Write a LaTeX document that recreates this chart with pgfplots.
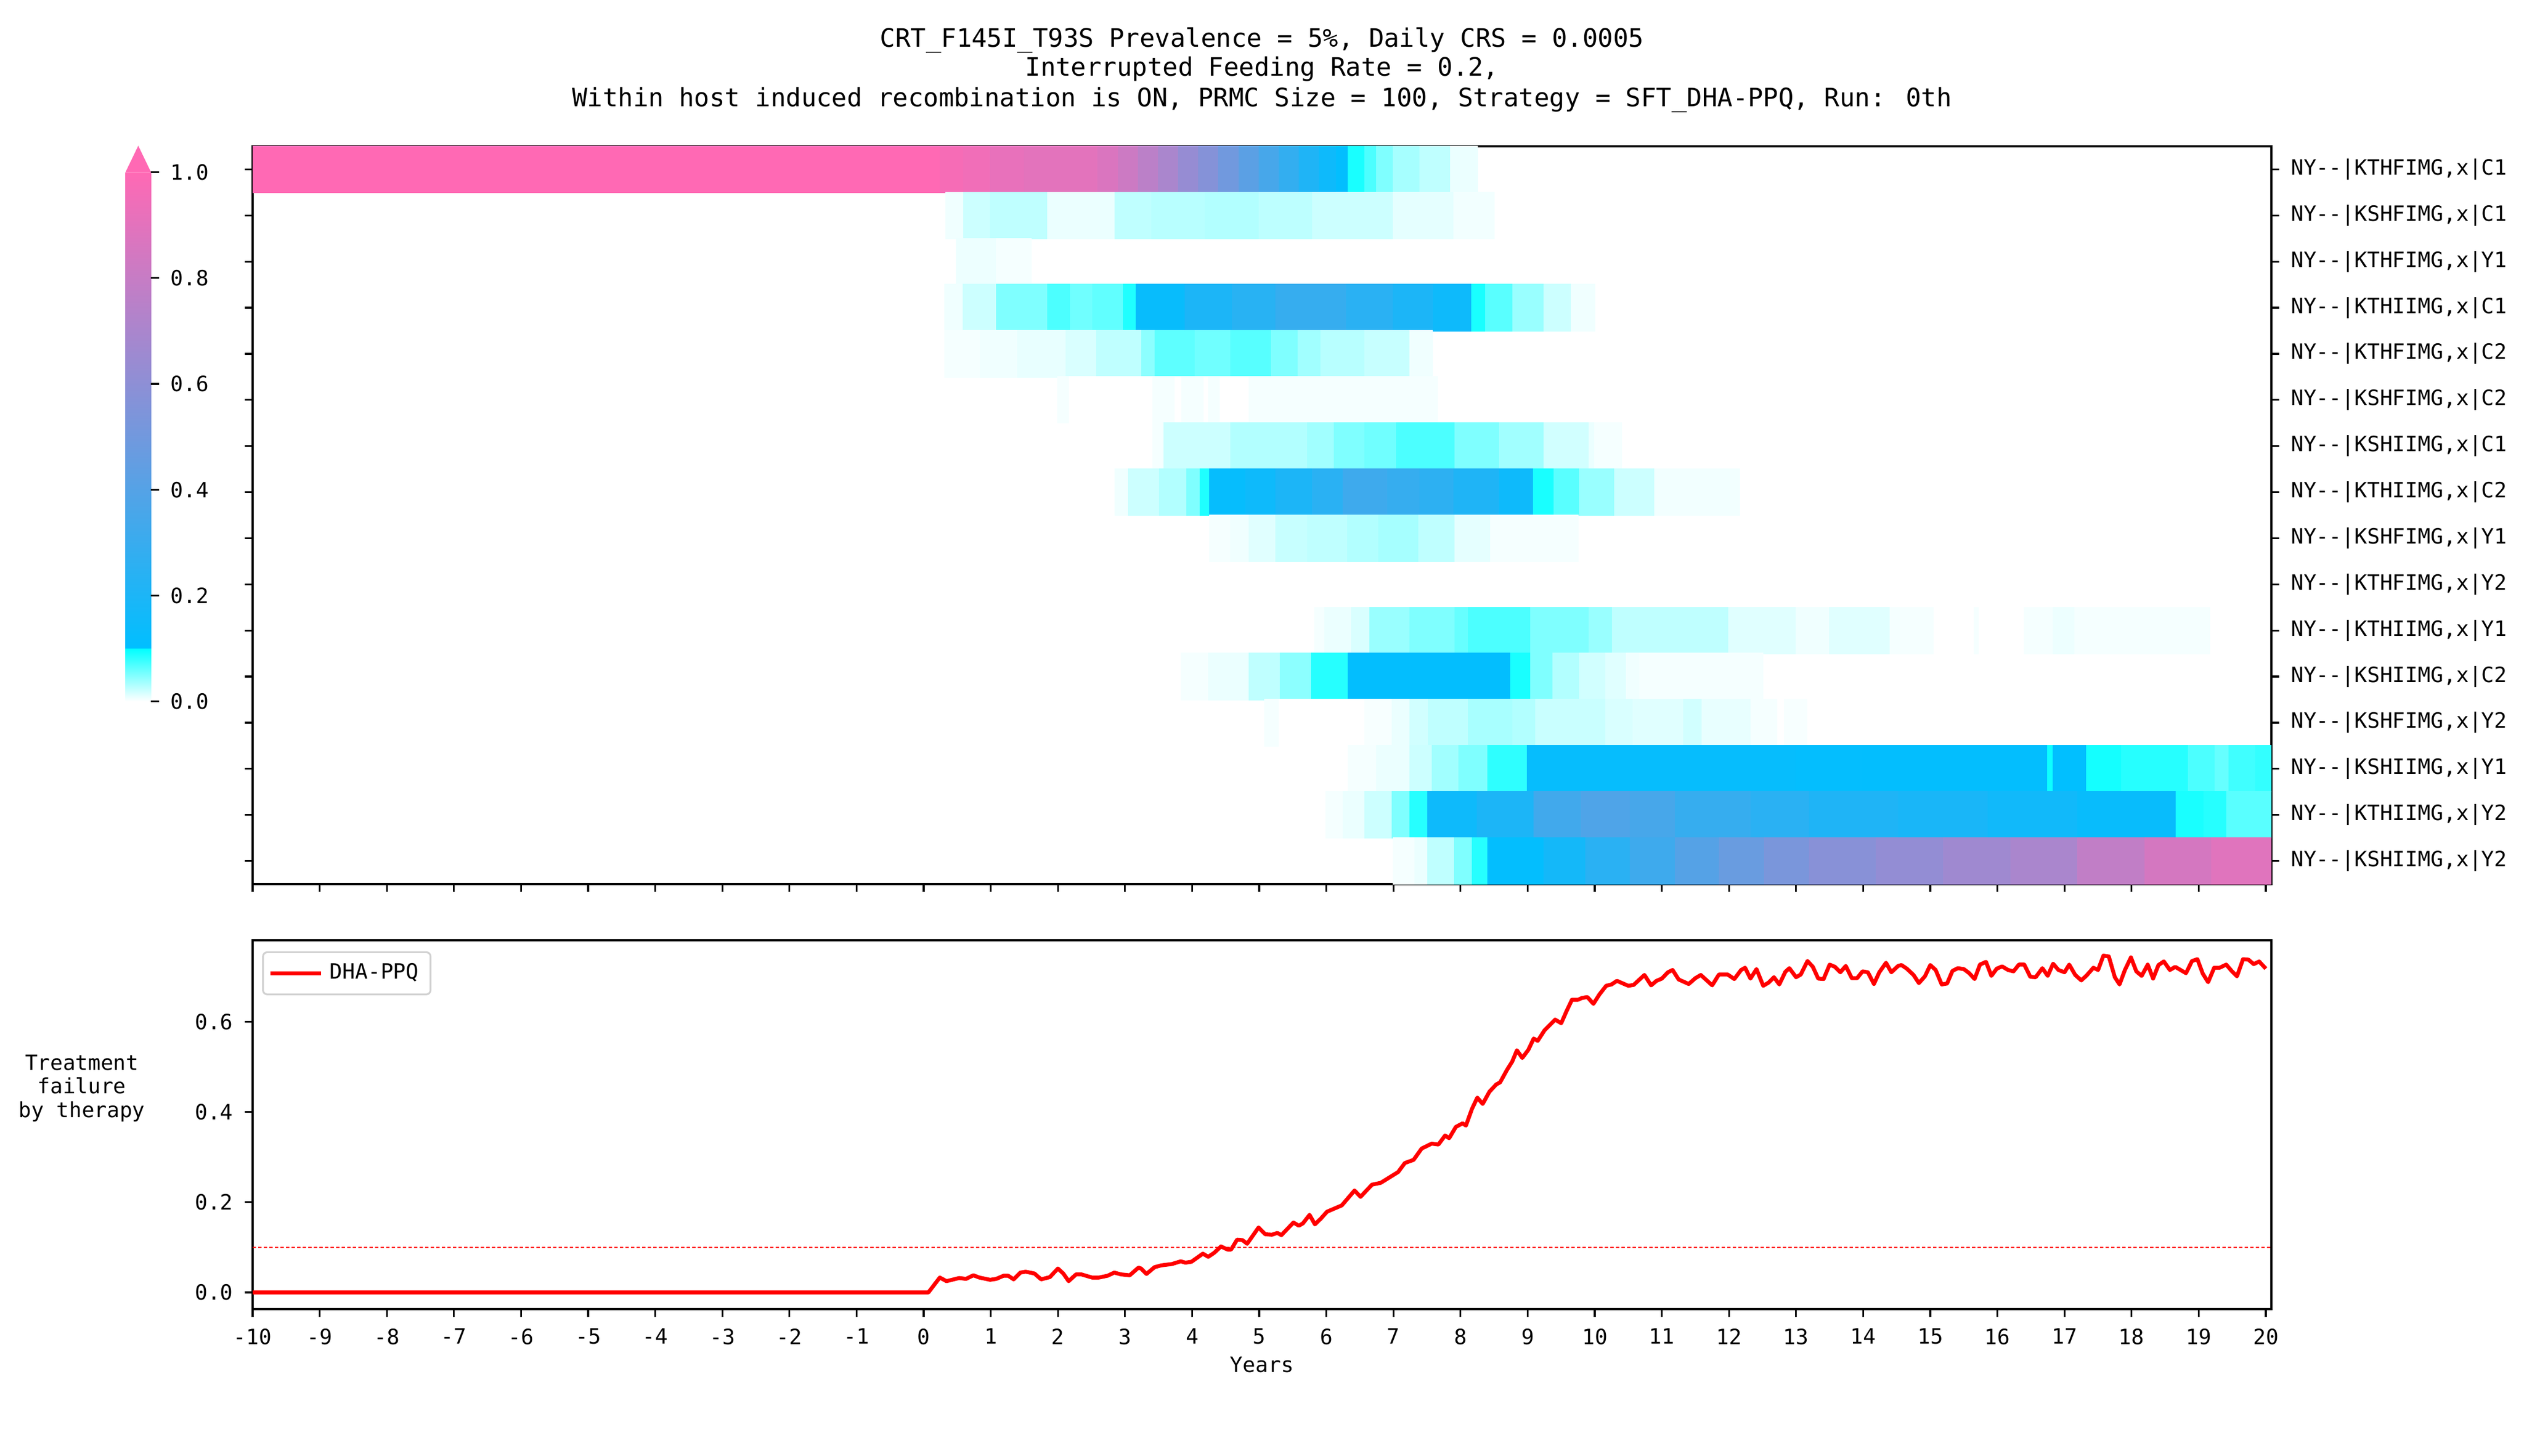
\documentclass[border=0pt]{standalone}
\usepackage{pgfplots}
\pgfplotsset{compat=1.18}
\usepackage{fontspec}
\setmainfont{DejaVu Sans Mono}
\definecolor{hotpink}{RGB}{255,105,180}
\newcommand{\lbl}{\fontsize{6.45}{7.7}\selectfont}
\newcommand{\ttl}{\fontsize{7.75}{9.2}\selectfont}
\pgfplotsset{
  colormap={cm}{rgb255(0cm)=(255,255,255) rgb255(10cm)=(0,255,255) rgb255(10.01cm)=(0,191,255) rgb255(100cm)=(255,105,180)},
  rowplot/.style={surf, shader=flat corner, mesh/rows=2, mesh/ordering=y varies, point meta=explicit},
}
\begin{document}
\begin{tikzpicture}[x=1pt,y=1pt]
\useasboundingbox (0,0) rectangle (771.12,444.72);
\begin{axis}[
  at={(77.18pt,174.59pt)}, anchor=south west,
  scale only axis, width=616.76pt, height=225.42pt,
  xmin=-10, xmax=20.083, ymin=0.5, ymax=16.5, y dir=reverse,
  colormap name=cm, point meta min=0, point meta max=1,
  xtick={-10,...,20}, xticklabels={}, xtick pos=left,
  ytick={1,...,16}, ytick pos=both, yticklabel pos=right,
  yticklabels={{NY-{}-|KTHFIMG,x|C1},{NY-{}-|KSHFIMG,x|C1},{NY-{}-|KTHFIMG,x|Y1},{NY-{}-|KTHIIMG,x|C1},{NY-{}-|KTHFIMG,x|C2},{NY-{}-|KSHFIMG,x|C2},{NY-{}-|KSHIIMG,x|C1},{NY-{}-|KTHIIMG,x|C2},{NY-{}-|KSHFIMG,x|Y1},{NY-{}-|KTHFIMG,x|Y2},{NY-{}-|KTHIIMG,x|Y1},{NY-{}-|KSHIIMG,x|C2},{NY-{}-|KSHFIMG,x|Y2},{NY-{}-|KSHIIMG,x|Y1},{NY-{}-|KTHIIMG,x|Y2},{NY-{}-|KSHIIMG,x|Y2}},
  tick align=outside, major tick length=2.45pt,
  every tick/.style={black, line width=0.54pt},
  axis line style={line width=0.54pt},
  every tick label/.append style={font=\lbl},
  colorbar,
  colorbar style={
    at={(38.34pt,230.4pt)}, anchor=south west, xshift=-0.3cm,
    scale only axis, width=7.8pt, height=161.7pt,
    ytick={0,0.2,0.4,0.6,0.8,1}, yticklabels={0.0,0.2,0.4,0.6,0.8,1.0},
    yticklabel pos=right, ytick pos=right, xtick=\empty,
    axis line style={draw=none},
    tick align=outside, major tick length=2.45pt,
    every tick/.style={black, line width=0.54pt},
    every tick label/.append style={font=\lbl},
    extra description/.code={\fill[hotpink] (rel axis cs:0,1) -- (rel axis cs:1,1) -- (rel axis cs:0.5,1.05) -- cycle;},
  },
]
% row 1 KTHFIMG|C1
\addplot[rowplot] table[meta index=2] {
x y v
-10 0.5 1.0
-10 1.5 1.0
0.25 0.5 0.97
0.25 1.5 0.97
0.6 0.5 0.95
0.6 1.5 0.95
1.0 0.5 0.92
1.0 1.5 0.92
1.5 0.5 0.90
1.5 1.5 0.90
2.6 0.5 0.87
2.6 1.5 0.87
2.9 0.5 0.82
2.9 1.5 0.82
3.2 0.5 0.76
3.2 1.5 0.76
3.5 0.5 0.70
3.5 1.5 0.70
3.8 0.5 0.63
3.8 1.5 0.63
4.1 0.5 0.57
4.1 1.5 0.57
4.4 0.5 0.50
4.4 1.5 0.50
4.7 0.5 0.42
4.7 1.5 0.42
5.0 0.5 0.35
5.0 1.5 0.35
5.3 0.5 0.28
5.3 1.5 0.28
5.6 0.5 0.21
5.6 1.5 0.21
5.9 0.5 0.15
5.9 1.5 0.15
6.15 0.5 0.11
6.15 1.5 0.11
6.33 0.5 0.09
6.33 1.5 0.09
6.58 0.5 0.07
6.58 1.5 0.07
6.75 0.5 0.05
6.75 1.5 0.05
7.0 0.5 0.035
7.0 1.5 0.035
7.4 0.5 0.025
7.4 1.5 0.025
7.85 0.5 0.008
7.85 1.5 0.008
8.25 0.5 0
8.25 1.5 0
};
% row 2 KSHFIMG|C1
\addplot[rowplot] table[meta index=2] {
x y v
0.33 1.5 0.006
0.33 2.5 0.006
0.6 1.5 0.02
0.6 2.5 0.02
1.0 1.5 0.025
1.0 2.5 0.025
1.85 1.5 0.008
1.85 2.5 0.008
2.85 1.5 0.025
2.85 2.5 0.025
3.4 1.5 0.028
3.4 2.5 0.028
4.2 1.5 0.03
4.2 2.5 0.03
5.0 1.5 0.026
5.0 2.5 0.026
5.8 1.5 0.02
5.8 2.5 0.02
7.0 1.5 0.01
7.0 2.5 0.01
7.9 1.5 0.005
7.9 2.5 0.005
8.5 1.5 0
8.5 2.5 0
};
% row 3 KTHFIMG|Y1
\addplot[rowplot] table[meta index=2] {
x y v
0.49 2.5 0.007
0.49 3.5 0.007
1.09 2.5 0.004
1.09 3.5 0.004
1.6 2.5 0
1.6 3.5 0
};
% row 4 KTHIIMG|C1
\addplot[rowplot] table[meta index=2] {
x y v
0.32 3.5 0.006
0.32 4.5 0.006
0.59 3.5 0.02
0.59 4.5 0.02
1.09 3.5 0.05
1.09 4.5 0.05
1.85 3.5 0.07
1.85 4.5 0.07
2.19 3.5 0.056
2.19 4.5 0.056
2.52 3.5 0.062
2.52 4.5 0.062
2.98 3.5 0.088
2.98 4.5 0.088
3.17 3.5 0.13
3.17 4.5 0.13
3.9 3.5 0.2
3.9 4.5 0.2
4.6 3.5 0.24
4.6 4.5 0.24
5.25 3.5 0.29
5.25 4.5 0.29
6.3 3.5 0.25
6.3 4.5 0.25
7.0 3.5 0.2
7.0 4.5 0.2
7.6 3.5 0.15
7.6 4.5 0.15
8.17 3.5 0.09
8.17 4.5 0.09
8.38 3.5 0.065
8.38 4.5 0.065
8.78 3.5 0.04
8.78 4.5 0.04
9.25 3.5 0.02
9.25 4.5 0.02
9.65 3.5 0.006
9.65 4.5 0.006
10.0 3.5 0
10.0 4.5 0
};
% row 5 KTHFIMG|C2
\addplot[rowplot] table[meta index=2] {
x y v
0.32 4.5 0.004
0.32 5.5 0.004
0.85 4.5 0.006
0.85 5.5 0.006
1.4 4.5 0.009
1.4 5.5 0.009
2.12 4.5 0.015
2.12 5.5 0.015
2.58 4.5 0.025
2.58 5.5 0.025
3.25 4.5 0.045
3.25 5.5 0.045
3.45 4.5 0.063
3.45 5.5 0.063
4.05 4.5 0.056
4.05 5.5 0.056
4.58 4.5 0.066
4.58 5.5 0.066
5.18 4.5 0.05
5.18 5.5 0.05
5.58 4.5 0.037
5.58 5.5 0.037
5.92 4.5 0.028
5.92 5.5 0.028
6.58 4.5 0.022
6.58 5.5 0.022
7.25 4.5 0.006
7.25 5.5 0.006
7.58 4.5 0
7.58 5.5 0
};
% row 6 KSHFIMG|C2
\addplot[rowplot] table[meta index=2] {
x y v
2.0 5.5 0.004
2.0 6.5 0.004
2.17 5.5 0
2.17 6.5 0
3.42 5.5 0.004
3.42 6.5 0.004
3.75 5.5 0
3.75 6.5 0
3.85 5.5 0.004
3.85 6.5 0.004
4.18 5.5 0
4.18 6.5 0
4.25 5.5 0.004
4.25 6.5 0.004
4.42 5.5 0
4.42 6.5 0
4.85 5.5 0.004
4.85 6.5 0.004
7.65 5.5 0
7.65 6.5 0
};
% row 7 KSHIIMG|C1
\addplot[rowplot] table[meta index=2] {
x y v
3.42 6.5 0.004
3.42 7.5 0.004
3.58 6.5 0.02
3.58 7.5 0.02
4.58 6.5 0.03
4.58 7.5 0.03
5.72 6.5 0.037
5.72 7.5 0.037
6.12 6.5 0.05
6.12 7.5 0.05
6.58 6.5 0.056
6.58 7.5 0.056
7.05 6.5 0.07
7.05 7.5 0.07
7.92 6.5 0.05
7.92 7.5 0.05
8.58 6.5 0.037
8.58 7.5 0.037
9.25 6.5 0.018
9.25 7.5 0.018
9.92 6.5 0.008
9.92 7.5 0.008
10.0 6.5 0.004
10.0 7.5 0.004
10.4 6.5 0
10.4 7.5 0
};
% row 8 KTHIIMG|C2
\addplot[rowplot] table[meta index=2] {
x y v
2.85 7.5 0.006
2.85 8.5 0.006
3.05 7.5 0.02
3.05 8.5 0.02
3.52 7.5 0.03
3.52 8.5 0.03
3.92 7.5 0.05
3.92 8.5 0.05
4.12 7.5 0.088
4.12 8.5 0.088
4.26 7.5 0.12
4.26 8.5 0.12
4.8 7.5 0.15
4.8 8.5 0.15
5.25 7.5 0.2
5.25 8.5 0.2
5.8 7.5 0.25
5.8 8.5 0.25
6.25 7.5 0.32
6.25 8.5 0.32
6.92 7.5 0.29
6.92 8.5 0.29
7.4 7.5 0.26
7.4 8.5 0.26
7.9 7.5 0.21
7.9 8.5 0.21
8.58 7.5 0.15
8.58 8.5 0.15
9.09 7.5 0.09
9.09 8.5 0.09
9.4 7.5 0.065
9.4 8.5 0.065
9.78 7.5 0.04
9.78 8.5 0.04
10.3 7.5 0.02
10.3 8.5 0.02
10.9 7.5 0.005
10.9 8.5 0.005
12.15 7.5 0
12.15 8.5 0
};
% row 9 KSHFIMG|Y1
\addplot[rowplot] table[meta index=2] {
x y v
4.26 8.5 0.004
4.26 9.5 0.004
4.58 8.5 0.006
4.58 9.5 0.006
4.85 8.5 0.012
4.85 9.5 0.012
5.25 8.5 0.022
5.25 9.5 0.022
5.72 8.5 0.025
5.72 9.5 0.025
6.32 8.5 0.03
6.32 9.5 0.03
6.78 8.5 0.035
6.78 9.5 0.035
7.38 8.5 0.025
7.38 9.5 0.025
7.92 8.5 0.01
7.92 9.5 0.01
8.45 8.5 0.004
8.45 9.5 0.004
9.75 8.5 0
9.75 9.5 0
};
% row 11 KTHIIMG|Y1
\addplot[rowplot] table[meta index=2] {
x y v
5.83 10.5 0.004
5.83 11.5 0.004
5.98 10.5 0.008
5.98 11.5 0.008
6.38 10.5 0.015
6.38 11.5 0.015
6.65 10.5 0.04
6.65 11.5 0.04
7.25 10.5 0.05
7.25 11.5 0.05
7.92 10.5 0.06
7.92 11.5 0.06
8.12 10.5 0.07
8.12 11.5 0.07
9.05 10.5 0.05
9.05 11.5 0.05
9.92 10.5 0.04
9.92 11.5 0.04
10.27 10.5 0.025
10.27 11.5 0.025
12.0 10.5 0.012
12.0 11.5 0.012
13.0 10.5 0.006
13.0 11.5 0.006
13.5 10.5 0.012
13.5 11.5 0.012
14.4 10.5 0.004
14.4 11.5 0.004
15.06 10.5 0
15.06 11.5 0
15.66 10.5 0.004
15.66 11.5 0.004
15.73 10.5 0
15.73 11.5 0
16.4 10.5 0.004
16.4 11.5 0.004
16.83 10.5 0.007
16.83 11.5 0.007
17.16 10.5 0.004
17.16 11.5 0.004
19.16 10.5 0
19.16 11.5 0
};
% row 12 KSHIIMG|C2
\addplot[rowplot] table[meta index=2] {
x y v
3.84 11.5 0.004
3.84 12.5 0.004
4.25 11.5 0.008
4.25 12.5 0.008
4.85 11.5 0.025
4.85 12.5 0.025
5.32 11.5 0.045
5.32 12.5 0.045
5.78 11.5 0.085
5.78 12.5 0.085
6.33 11.5 0.11
6.33 12.5 0.11
8.75 11.5 0.09
8.75 12.5 0.09
9.05 11.5 0.05
9.05 12.5 0.05
9.38 11.5 0.03
9.38 12.5 0.03
9.78 11.5 0.018
9.78 12.5 0.018
10.17 11.5 0.012
10.17 12.5 0.012
10.47 11.5 0.006
10.47 12.5 0.006
10.67 11.5 0.004
10.67 12.5 0.004
12.5 11.5 0
12.5 12.5 0
};
% row 13 KSHFIMG|Y2
\addplot[rowplot] table[meta index=2] {
x y v
5.08 12.5 0.004
5.08 13.5 0.004
5.3 12.5 0
5.3 13.5 0
6.58 12.5 0.003
6.58 13.5 0.003
6.98 12.5 0.008
6.98 13.5 0.008
7.25 12.5 0.018
7.25 13.5 0.018
7.52 12.5 0.025
7.52 13.5 0.025
8.12 12.5 0.034
8.12 13.5 0.034
8.78 12.5 0.03
8.78 13.5 0.03
9.12 12.5 0.021
9.12 13.5 0.021
10.17 12.5 0.015
10.17 13.5 0.015
10.57 12.5 0.012
10.57 13.5 0.012
11.33 12.5 0.018
11.33 13.5 0.018
11.6 12.5 0.009
11.6 13.5 0.009
12.33 12.5 0.004
12.33 13.5 0.004
12.73 12.5 0
12.73 13.5 0
12.83 12.5 0.003
12.83 13.5 0.003
13.16 12.5 0
13.16 13.5 0
};
% row 14 KSHIIMG|Y1
\addplot[rowplot] table[meta index=2] {
x y v
6.33 13.5 0.004
6.33 14.5 0.004
6.75 13.5 0.008
6.75 14.5 0.008
7.25 13.5 0.02
7.25 14.5 0.02
7.58 13.5 0.037
7.58 14.5 0.037
7.98 13.5 0.05
7.98 14.5 0.05
8.41 13.5 0.082
8.41 14.5 0.082
9.0 13.5 0.12
9.0 14.5 0.12
13.0 13.5 0.115
13.0 14.5 0.115
14.0 13.5 0.11
14.0 14.5 0.11
16.75 13.5 0.095
16.75 14.5 0.095
16.83 13.5 0.105
16.83 14.5 0.105
17.33 13.5 0.092
17.33 14.5 0.092
17.85 13.5 0.085
17.85 14.5 0.085
18.85 13.5 0.07
18.85 14.5 0.07
19.25 13.5 0.06
19.25 14.5 0.06
19.45 13.5 0.075
19.45 14.5 0.075
19.85 13.5 0.08
19.85 14.5 0.08
20.083 13.5 0
20.083 14.5 0
};
% row 15 KTHIIMG|Y2
\addplot[rowplot] table[meta index=2] {
x y v
6.0 14.5 0.004
6.0 15.5 0.004
6.25 14.5 0.008
6.25 15.5 0.008
6.58 14.5 0.02
6.58 15.5 0.02
6.98 14.5 0.05
6.98 15.5 0.05
7.25 14.5 0.085
7.25 15.5 0.085
7.51 14.5 0.15
7.51 15.5 0.15
8.25 14.5 0.2
8.25 15.5 0.2
9.1 14.5 0.33
9.1 15.5 0.33
9.8 14.5 0.38
9.8 15.5 0.38
10.53 14.5 0.35
10.53 15.5 0.35
11.2 14.5 0.29
11.2 15.5 0.29
12.33 14.5 0.25
12.33 15.5 0.25
13.2 14.5 0.21
13.2 15.5 0.21
14.53 14.5 0.19
14.53 15.5 0.19
15.86 14.5 0.16
15.86 15.5 0.16
17.2 14.5 0.13
17.2 15.5 0.13
18.67 14.5 0.09
18.67 15.5 0.09
19.08 14.5 0.085
19.08 15.5 0.085
19.42 14.5 0.065
19.42 15.5 0.065
20.083 14.5 0
20.083 15.5 0
};
% row 16 KSHIIMG|Y2
\addplot[rowplot] table[meta index=2] {
x y v
7.0 15.5 0.004
7.0 16.5 0.004
7.32 15.5 0.008
7.32 16.5 0.008
7.51 15.5 0.025
7.51 16.5 0.025
7.91 15.5 0.05
7.91 16.5 0.05
8.18 15.5 0.085
8.18 16.5 0.085
8.41 15.5 0.11
8.41 16.5 0.11
9.25 15.5 0.17
9.25 16.5 0.17
9.87 15.5 0.25
9.87 16.5 0.25
10.53 15.5 0.32
10.53 16.5 0.32
11.2 15.5 0.40
11.2 16.5 0.40
11.86 15.5 0.47
11.86 16.5 0.47
12.53 15.5 0.53
12.53 16.5 0.53
13.2 15.5 0.58
13.2 16.5 0.58
14.2 15.5 0.62
14.2 16.5 0.62
15.2 15.5 0.66
15.2 16.5 0.66
16.2 15.5 0.70
16.2 16.5 0.70
17.2 15.5 0.78
17.2 16.5 0.78
18.2 15.5 0.85
18.2 16.5 0.85
19.2 15.5 0.89
19.2 16.5 0.89
20.083 15.5 0
20.083 16.5 0
};
\end{axis}

\begin{axis}[
  at={(77.18pt,44.71pt)}, anchor=south west,
  scale only axis, width=616.76pt, height=112.71pt,
  xmin=-10, xmax=20.083, ymin=-0.037, ymax=0.781,
  xtick={-10,...,20},
  xticklabels={-10,-9,-8,-7,-6,-5,-4,-3,-2,-1,0,1,2,3,4,5,6,7,8,9,10,11,12,13,14,15,16,17,18,19,20},
  ytick={0,0.2,0.4,0.6}, yticklabels={0.0,0.2,0.4,0.6},
  tick pos=left, tick align=outside, major tick length=2.45pt,
  every tick/.style={black, line width=0.54pt},
  axis line style={line width=0.54pt},
  every tick label/.append style={font=\lbl},
  legend style={at={(0.0047,0.97)}, anchor=north west, draw=black!18, line width=0.55pt, rounded corners=1.3pt, font=\lbl, fill=white, inner xsep=1.6pt, inner ysep=1.3pt},
  legend cell align=left,
  legend image code/.code={\draw[#1, line width=1.2pt] (0pt,0pt) -- (15.6pt,0pt);},
]
\addplot[red, line width=0.3pt, dash pattern=on 1pt off 0.7pt, forget plot] coordinates {(-10,0.1) (20.083,0.1)};
\addplot[red, line width=1.2pt, line join=round] table {
x y
-10 0
0.07 0
0.24 0.033
0.34 0.025
0.53 0.032
0.63 0.030
0.74 0.038
0.83 0.033
0.99 0.028
1.08 0.030
1.19 0.037
1.26 0.037
1.34 0.029
1.44 0.044
1.52 0.046
1.65 0.042
1.75 0.029
1.88 0.034
2.00 0.053
2.08 0.042
2.16 0.025
2.27 0.040
2.35 0.040
2.51 0.033
2.61 0.033
2.74 0.037
2.84 0.044
2.94 0.040
3.07 0.038
3.20 0.055
3.24 0.053
3.32 0.041
3.44 0.056
3.54 0.060
3.70 0.063
3.83 0.069
3.90 0.066
3.99 0.068
4.16 0.086
4.24 0.079
4.33 0.088
4.43 0.102
4.53 0.095
4.58 0.095
4.67 0.117
4.75 0.116
4.82 0.108
4.99 0.144
5.09 0.129
5.19 0.128
5.27 0.132
5.33 0.127
5.51 0.155
5.59 0.148
5.65 0.153
5.75 0.172
5.83 0.151
5.92 0.164
6.01 0.179
6.23 0.193
6.42 0.226
6.51 0.212
6.68 0.239
6.81 0.243
6.94 0.255
7.07 0.267
7.17 0.287
7.30 0.294
7.42 0.319
7.57 0.330
7.67 0.328
7.77 0.348
7.83 0.342
7.93 0.367
8.03 0.375
8.08 0.370
8.17 0.407
8.25 0.432
8.33 0.418
8.43 0.445
8.53 0.461
8.59 0.466
8.69 0.493
8.77 0.512
8.84 0.537
8.92 0.520
9.01 0.538
9.09 0.563
9.15 0.558
9.25 0.581
9.41 0.605
9.50 0.597
9.58 0.624
9.66 0.649
9.75 0.649
9.81 0.653
9.89 0.655
9.98 0.640
10.07 0.661
10.17 0.680
10.25 0.683
10.33 0.691
10.50 0.680
10.58 0.682
10.74 0.704
10.84 0.681
10.92 0.691
11.00 0.696
11.09 0.710
11.16 0.715
11.25 0.694
11.40 0.684
11.50 0.697
11.58 0.704
11.75 0.681
11.85 0.705
11.98 0.705
12.08 0.695
12.18 0.715
12.24 0.720
12.32 0.696
12.41 0.717
12.51 0.680
12.59 0.687
12.67 0.699
12.75 0.683
12.84 0.711
12.90 0.719
13.00 0.699
13.07 0.705
13.17 0.735
13.25 0.722
13.33 0.696
13.41 0.695
13.50 0.727
13.58 0.722
13.66 0.710
13.74 0.724
13.83 0.697
13.91 0.697
13.99 0.712
14.07 0.710
14.16 0.684
14.24 0.710
14.34 0.731
14.42 0.710
14.52 0.724
14.57 0.726
14.65 0.718
14.75 0.704
14.83 0.686
14.92 0.701
15.00 0.726
15.08 0.715
15.17 0.683
15.25 0.685
15.33 0.713
15.41 0.719
15.50 0.717
15.58 0.708
15.66 0.695
15.74 0.727
15.83 0.733
15.91 0.702
15.99 0.718
16.07 0.723
16.16 0.715
16.24 0.712
16.32 0.727
16.40 0.727
16.49 0.700
16.57 0.699
16.67 0.719
16.75 0.702
16.83 0.729
16.91 0.715
17.00 0.710
17.07 0.727
17.16 0.704
17.25 0.692
17.33 0.703
17.43 0.720
17.50 0.715
17.58 0.747
17.66 0.745
17.75 0.699
17.82 0.683
17.90 0.715
17.99 0.743
18.07 0.712
18.15 0.702
18.24 0.727
18.32 0.696
18.40 0.726
18.48 0.734
18.57 0.715
18.65 0.722
18.73 0.715
18.81 0.708
18.90 0.735
18.98 0.739
19.06 0.707
19.14 0.688
19.23 0.720
19.31 0.720
19.41 0.727
19.49 0.713
19.57 0.701
19.66 0.739
19.74 0.738
19.82 0.728
19.90 0.734
20.00 0.718
};
\addlegendentry{DHA-PPQ}
\end{axis}

\node[font=\ttl, anchor=base] at (385.56,430.4) {CRT\_F145I\_T93S Prevalence = 5\%, Daily CRS = 0.0005};
\node[font=\ttl, anchor=base] at (385.56,421.5) {Interrupted Feeding Rate = 0.2,};
\node[font=\ttl, anchor=base] at (385.56,412.1) {Within host induced recombination is ON, PRMC Size = 100, Strategy = SFT\_DHA-PPQ, Run: 0th};
\node[font=\lbl, anchor=base] at (385.56,25.4) {Years};
\node[font=\fontsize{6.4}{7.2}\selectfont, align=center] at (25.0,112.2) {Treatment\\failure\\by therapy};
\end{tikzpicture}
\end{document}
